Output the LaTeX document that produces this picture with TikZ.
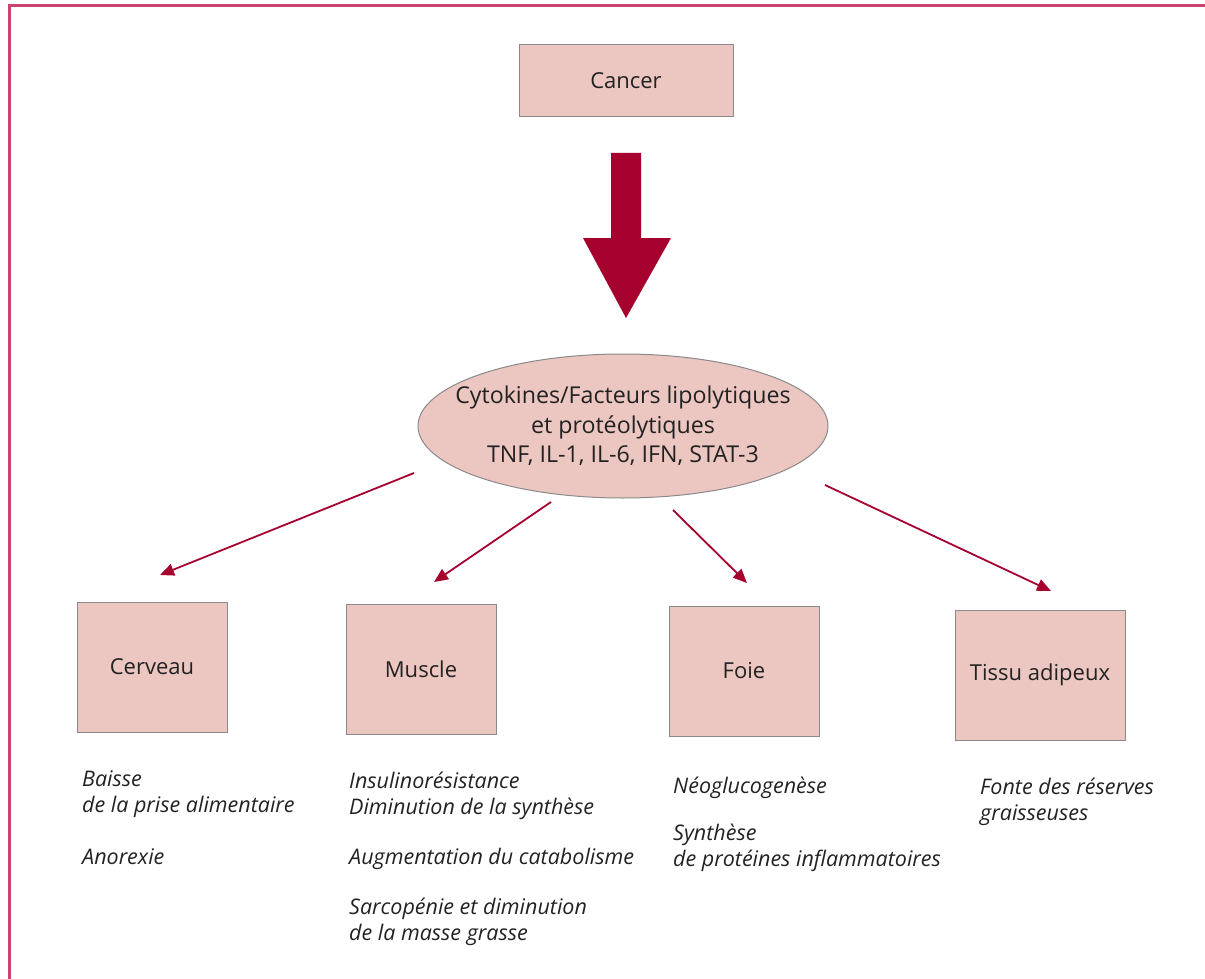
\documentclass[tikz,border=0pt]{standalone}
\usepackage{fontspec}
\setmainfont{Open Sans}
\usetikzlibrary{shapes.geometric,arrows.meta}
\definecolor{boxfill}{HTML}{ECC6C0}
\definecolor{boxline}{HTML}{8A8A8A}
\definecolor{arrowred}{HTML}{A6002F}
\definecolor{framecol}{HTML}{C9456F}
\definecolor{txt}{HTML}{222222}
\begin{document}
\begin{tikzpicture}[x=1pt,y=-1pt,
  organ/.style={draw=boxline, line width=1pt, fill=boxfill, minimum width=150pt, minimum height=130pt, inner sep=0pt, font=\fontsize{22}{26}\selectfont, text=txt},
  effect/.style={anchor=base west, inner sep=0pt, font=\itshape\fontsize{21.5}{26}\selectfont, text=txt},
  link/.style={draw=arrowred, line width=1.8pt, -{Triangle[length=14pt,width=12pt]}}]
\useasboundingbox (0,0) rectangle (1205,979);
% frame (only top and left edges are visible)
\draw[framecol, line width=3pt] (9.5,979) -- (9.5,5.5) -- (1205,5.5);

% cancer box
\node[draw=boxline, line width=1pt, fill=boxfill, minimum width=214pt, minimum height=72pt, inner sep=0pt,
      font=\fontsize{22}{26}\selectfont, text=txt] (cancer) at (626,81) {Cancer};

% thick arrow
\fill[arrowred] (611,153) -- (641,153) -- (641,238) -- (671,238) -- (626,318) -- (583,238) -- (611,238) -- cycle;

% mediator ellipse (negative horizontal padding keeps it at its fixed width)
\node[ellipse, draw=boxline, line width=1pt, fill=boxfill, minimum width=410pt, minimum height=144pt,
      inner xsep=-40pt, inner ysep=0pt,
      align=center, font=\fontsize{23.2}{29.5}\selectfont, text=txt] (cyto) at (623,426)
  {Cytokines/Facteurs lipolytiques\\et protéolytiques\\TNF, IL-1, IL-6, IFN, STAT-3};

% target organs
\node[organ] (cerveau) at (152,667) {Cerveau};
\node[organ] (muscle) at (421,669) {Muscle};
\node[organ] (foie) at (744,671) {Foie};
\node[organ, minimum width=170pt] (tissu) at (1040,675) {Tissu adipeux};

% connectors
\coordinate (s1) at (414,473); \coordinate (e1) at (160,575);
\coordinate (s2) at (551,502); \coordinate (e2) at (434,582);
\coordinate (s3) at (673,510); \coordinate (e3) at (747,583);
\coordinate (s4) at (825,485); \coordinate (e4) at (1051,591);
\draw[link] (s1) -- (e1);
\draw[link] (s2) -- (e2);
\draw[link] (s3) -- (e3);
\draw[link] (s4) -- (e4);

% effects: brain
\node[effect] (c1) at (82,786) {Baisse};
\node[effect] (c2) at (82,812) {de la prise alimentaire};
\node[effect] (c3) at (82,864) {Anorexie};
% effects: muscle
\node[effect] (m1) at (349,788) {Insulinorésistance};
\node[effect] (m2) at (349,814) {Diminution de la synthèse};
\node[effect] (m3) at (349,864) {Augmentation du catabolisme};
\node[effect] (m4) at (349,914) {Sarcopénie et diminution};
\node[effect] (m5) at (349,940) {de la masse grasse};
% effects: liver
\node[effect] (f1) at (673,793) {Néoglucogenèse};
\node[effect] (f2) at (673,840) {Synthèse};
\node[effect] (f3) at (673,866) {de protéines inflammatoires};
% effects: adipose tissue
\node[effect] (t1) at (980,794) {Fonte des réserves};
\node[effect] (t2) at (980,820) {graisseuses};
\end{tikzpicture}
\end{document}
